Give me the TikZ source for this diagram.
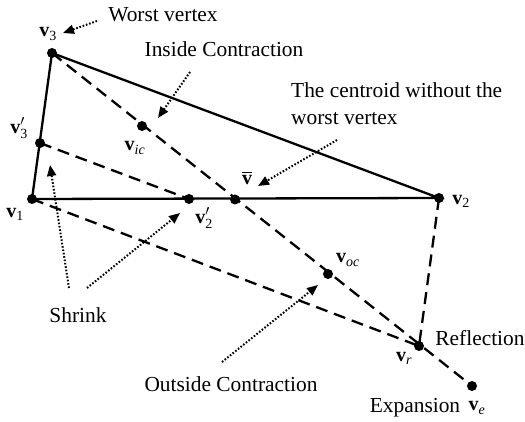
\documentclass[tikz,border=0pt]{standalone}
\usepackage{amsmath}
\usepackage{fontspec}
\setmainfont{Liberation Serif}
\usetikzlibrary{arrows.meta}
\newcommand{\vb}{\textbf{v}}
\newcommand{\sbs}[1]{\text{#1}}
\begin{document}
\begin{tikzpicture}[x=1pt,y=-1pt,
 pt/.style={circle,fill=black,inner sep=0pt,minimum size=10pt},
 solidl/.style={line width=2.3pt},
 dashl/.style={line width=2.3pt,dash pattern=on 12pt off 7pt},
 dotarr/.style={line width=2pt,dash pattern=on 1.6pt off 1.8pt,-{Triangle[length=11pt,width=9pt]}},
 lab/.style={font=\fontsize{20}{23}\selectfont,inner sep=0pt},
 txt/.style={font=\fontsize{21.4}{27}\selectfont,inner sep=0pt}]
\useasboundingbox (0,0) rectangle (525,422);
% points
\node[pt] (v3) at (52,53) {};
\node[pt] (v1) at (32,199) {};
\node[pt] (v2) at (439,198) {};
\node[pt] (v3p) at (40,143) {};
\node[pt] (v2p) at (189,199) {};
\node[pt] (vbar) at (235,199.5) {};
\node[pt] (vic) at (142,126) {};
\node[pt] (voc) at (328,274) {};
\node[pt] (vr) at (419,346) {};
\node[pt] (ve) at (472,386) {};
% solid triangle
\draw[solidl] (v1.center) -- (v2.center) -- (v3.center) -- cycle;
% dashed
\draw[dashl] (v3.center) -- (ve.center);
\draw[dashl] (v3p.center) -- (v2p.center);
\draw[dashl] (v1.center) -- (vr.center);
\draw[dashl] (v2.center) -- (vr.center);
% vertex labels
\node[lab] (l3) at (48,34) {$\vb_{\sbs{3}}$};
\node[lab] (l3p) at (19,128) {$\vb'_{\sbs{3}}$};
\node[lab] (l1) at (15,214) {$\vb_{\sbs{1}}$};
\node[lab] (l2) at (461,201) {$\vb_{\sbs{2}}$};
\node[lab] (l2p) at (204,218) {$\vb'_{\sbs{2}}$};
\node[lab] (lbar) at (247,178) {$\overline{\vb}$};
\node[lab] (lic) at (135,148) {$\vb_{\sbs{\textit{ic}}}$};
\node[lab] (loc) at (348,260) {$\vb_{\sbs{\textit{oc}}}$};
\node[lab] (lr) at (404,358) {$\vb_{\sbs{\textit{r}}}$};
\node[lab] (le) at (477,408) {$\vb_{\sbs{\textit{e}}}$};
% texts
\node[txt] (tw) at (163,15) {Worst vertex};
\node[txt] (ti) at (224,49) {Inside Contraction};
\node[txt,anchor=north west,align=left] (tc) at (291,82) {The centroid without the\\worst vertex};
\node[txt] (ts) at (78,315) {Shrink};
\node[txt] (to) at (231,384) {Outside Contraction};
\node[txt] (tr) at (480,338) {Reflection};
\node[txt] (tx) at (415,408) {Expansion};
% dotted arrows
\coordinate (aw) at (97,21);
\coordinate (aw2) at (63,33);
\draw[dotarr] (aw) -- (aw2);
\coordinate (ai) at (190,72);
\coordinate (ai2) at (158,118);
\draw[dotarr] (ai) -- (ai2);
\coordinate (ac) at (337,140);
\coordinate (ac2) at (258,186);
\draw[dotarr] (ac) -- (ac2);
\coordinate (as1) at (69,288);
\coordinate (as12) at (50,165);
\draw[dotarr] (as1) -- (as12);
\coordinate (as2) at (87,288);
\coordinate (as22) at (180,213);
\draw[dotarr] (as2) -- (as22);
\coordinate (ao) at (222,362);
\coordinate (ao2) at (318,285);
\draw[dotarr] (ao) -- (ao2);
\end{tikzpicture}
\end{document}
